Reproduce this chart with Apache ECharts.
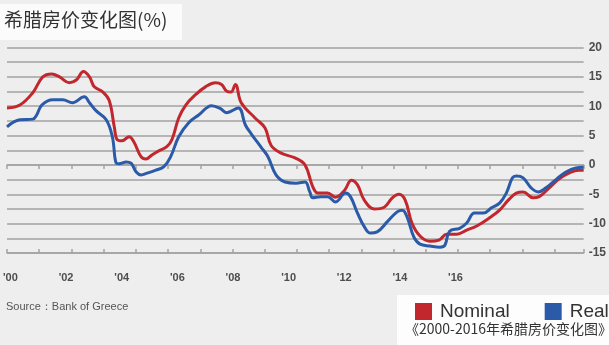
<!DOCTYPE html>
<html>
<head>
<meta charset="utf-8">
<script src="https://cdn.jsdelivr.net/npm/echarts@6/dist/echarts.min.js"></script>
<style>
  html, body { margin: 0; padding: 0; background: #eeeeee; }
  #chart { width: 609px; height: 345px; }
</style>
</head>
<body>
<div id="chart"></div>
<script>
// Greek house price change (%), nominal and real, sampled in decimal years
const nominalYears = [2000.00, 2000.40, 2000.80, 2001.11, 2001.39, 2001.63, 2001.94, 2002.16, 2002.37, 2002.56,
  2002.71, 2002.96, 2003.17, 2003.33, 2003.42, 2003.57, 2003.79, 2003.94, 2004.16, 2004.31,
  2004.50, 2004.71, 2004.96, 2005.12, 2005.33, 2005.55, 2005.86, 2006.16, 2006.47, 2006.66,
  2006.81, 2006.95, 2007.09, 2007.27, 2007.70, 2008.01, 2008.20, 2008.51, 2008.94, 2009.25,
  2009.49, 2009.65, 2009.95, 2010.20, 2010.48, 2010.69, 2010.88, 2011.09, 2011.40, 2011.71,
  2011.96, 2012.17, 2012.36, 2012.57, 2012.82, 2013.13, 2013.41, 2013.65, 2013.96, 2014.27,
  2014.58, 2014.98, 2015.29, 2015.56, 2015.81, 2016.02, 2016.33, 2016.52, 2016.83, 2017.13,
  2017.44, 2017.75, 2017.90];
const nominalValues = [9.7, 10.2, 12.3, 15.0, 15.5, 15.0, 14.0, 14.5, 15.9, 15.0,
  13.3, 12.5, 11.0, 6.5, 4.3, 4.1, 4.8, 3.9, 1.4, 1.0,
  1.7, 2.4, 3.1, 4.3, 8.0, 10.2, 12.0, 13.3, 14.0, 13.7,
  12.6, 12.4, 13.7, 10.6, 8.0, 6.3, 3.3, 2.0, 1.2, 0.0,
  -3.7, -4.8, -4.8, -5.5, -4.3, -2.6, -3.4, -6.0, -7.5, -7.2,
  -5.6, -5.0, -6.0, -9.9, -12.1, -13.0, -12.8, -11.8, -11.8, -11.1,
  -10.4, -9.0, -7.7, -6.0, -4.8, -4.6, -5.6, -5.4, -3.9, -2.4,
  -1.4, -0.9, -0.9];

const realYears = [2000.00, 2000.40, 2000.80, 2000.92, 2001.08, 2001.42, 2001.73, 2002.03, 2002.40, 2002.56,
  2002.77, 2003.08, 2003.27, 2003.39, 2003.48, 2003.70, 2003.85, 2004.01, 2004.16, 2004.35,
  2004.62, 2004.87, 2005.08, 2005.33, 2005.64, 2005.95, 2006.35, 2006.63, 2006.81, 2007.18,
  2007.40, 2007.58, 2007.89, 2008.10, 2008.35, 2008.63, 2008.97, 2009.25, 2009.40, 2009.49,
  2009.74, 2009.95, 2010.20, 2010.51, 2010.66, 2010.88, 2011.09, 2011.28, 2011.49, 2011.80,
  2012.11, 2012.27, 2012.42, 2012.63, 2012.82, 2013.13, 2013.44, 2013.59, 2013.74, 2014.05,
  2014.27, 2014.51, 2014.79, 2015.04, 2015.29, 2015.50, 2015.69, 2015.81, 2016.02, 2016.27,
  2016.49, 2016.73, 2017.04, 2017.35, 2017.66, 2017.90];
const realValues = [6.5, 7.7, 7.8, 8.5, 10.2, 11.1, 11.1, 10.6, 11.6, 10.6,
  9.2, 7.7, 4.8, 0.3, 0.2, 0.5, 0.3, -1.2, -1.7, -1.4,
  -0.9, -0.3, 1.4, 4.8, 7.2, 8.5, 10.1, 9.6, 8.9, 9.7,
  6.8, 5.3, 3.0, 1.4, -1.7, -2.9, -3.1, -2.9, -4.6, -5.6,
  -5.4, -5.4, -6.3, -4.8, -5.4, -8.2, -10.5, -11.6, -11.4, -9.7,
  -8.0, -7.7, -8.9, -12.3, -13.5, -13.8, -14.0, -13.7, -11.3, -10.8,
  -9.9, -8.2, -8.2, -7.3, -6.5, -4.8, -2.2, -1.9, -2.2, -3.9,
  -4.6, -3.9, -2.5, -1.2, -0.5, -0.4];

// Axis labels
const yearLabels = ["'00", "'02", "'04", "'06", "'08", "'10", "'12", "'14", "'16"];
const seriesNames = ['Nominal', 'Real'];

const RED = '#c1272d';
const BLUE = '#2a5aa8';
const GRID_GRAY = '#a2a2a2';
const LABEL_GRAY = '#4d4d4d';

const pair = (xs, ys) => xs.map((x, i) => [x, ys[i]]);

const chart = echarts.init(document.getElementById('chart'), null, { renderer: 'canvas' });

chart.setOption({
  backgroundColor: '#eeeeee',
  animation: false,
  title: {
    text: '希腊房价变化图(%)',
    left: 4,
    top: 10,
    padding: 0,
    textStyle: {
      fontFamily: 'Noto Sans CJK SC',
      fontSize: 19,
      fontWeight: 'normal',
      color: '#333333'
    }
  },
  legend: {
    data: seriesNames,
    orient: 'horizontal',
    left: 415,
    top: 302,
    width: 400,
    padding: 0,
    icon: 'rect',
    itemWidth: 17,
    itemHeight: 17,
    itemGap: 35,
    textStyle: {
      fontFamily: 'Liberation Sans',
      fontSize: 19,
      color: '#333333',
      padding: [0, 0, 0, 3]
    }
  },
  graphic: [
    { type: 'rect', z: -1, shape: { x: 0, y: 4, width: 182, height: 36 }, style: { fill: '#fbfbfb' } },
    { type: 'rect', z: -1, shape: { x: 397, y: 295, width: 212, height: 50 }, style: { fill: '#fdfdfd' } },
    {
      type: 'text', left: 6, top: 301,
      style: { text: 'Source：Bank of Greece', font: '11px "Liberation Sans"', fill: '#555555' }
    },
    {
      type: 'text', left: 405, top: 322,
      style: { text: '《2000-2016年希腊房价变化图》', font: '14px "Noto Sans CJK SC"', fill: '#333333' }
    }
  ],
  grid: [
    { left: 7, right: 21, top: 47.5, bottom: 92 },
    { left: 9.5, right: 153.5, top: 47.5, bottom: 81 }
  ],
  xAxis: [
    {
      type: 'value', gridIndex: 0, min: 2000, max: 2017.9, interval: 1,
      axisLine: { onZero: true, lineStyle: { color: GRID_GRAY, width: 1.5 } },
      axisTick: { show: true, length: 4, lineStyle: { color: GRID_GRAY, width: 1.5 } },
      axisLabel: { show: false },
      splitLine: { show: false }
    },
    {
      type: 'value', gridIndex: 0, min: 2000, max: 2017.9, interval: 1, position: 'bottom',
      axisLine: { onZero: true, lineStyle: { color: GRID_GRAY, width: 1.5 } },
      axisTick: { show: true, inside: true, length: 4, lineStyle: { color: GRID_GRAY, width: 1.5 } },
      axisLabel: { show: false },
      splitLine: { show: false }
    },
    {
      type: 'category', gridIndex: 1, data: yearLabels, boundaryGap: false,
      axisLine: { show: false },
      axisTick: { show: false },
      axisLabel: {
        margin: 8,
        fontFamily: 'Liberation Sans',
        fontSize: 11,
        fontWeight: 'bold',
        color: LABEL_GRAY
      }
    }
  ],
  yAxis: [
    {
      type: 'value', gridIndex: 0, position: 'right', min: -15, max: 20, interval: 2.5,
      axisLine: { show: false },
      axisTick: { show: false },
      axisLabel: {
        margin: 5,
        fontFamily: 'Liberation Sans',
        fontSize: 12,
        fontWeight: 'bold',
        color: LABEL_GRAY,
        formatter: v => (v % 5 === 0 ? String(v) : '')
      },
      splitLine: { lineStyle: { color: GRID_GRAY, width: 1.5 } }
    },
    {
      type: 'value', gridIndex: 1, show: false, min: -15, max: 20
    }
  ],
  series: [
    {
      name: seriesNames[0], type: 'line', xAxisIndex: 0, yAxisIndex: 0,
      data: pair(nominalYears, nominalValues),
      smooth: 0.4, showSymbol: false, symbol: 'none',
      itemStyle: { color: RED },
      lineStyle: { color: RED, width: 3 }
    },
    {
      name: seriesNames[1], type: 'line', xAxisIndex: 0, yAxisIndex: 0,
      data: pair(realYears, realValues),
      smooth: 0.4, showSymbol: false, symbol: 'none',
      itemStyle: { color: BLUE },
      lineStyle: { color: BLUE, width: 3 }
    }
  ]
});
</script>
</body>
</html>
